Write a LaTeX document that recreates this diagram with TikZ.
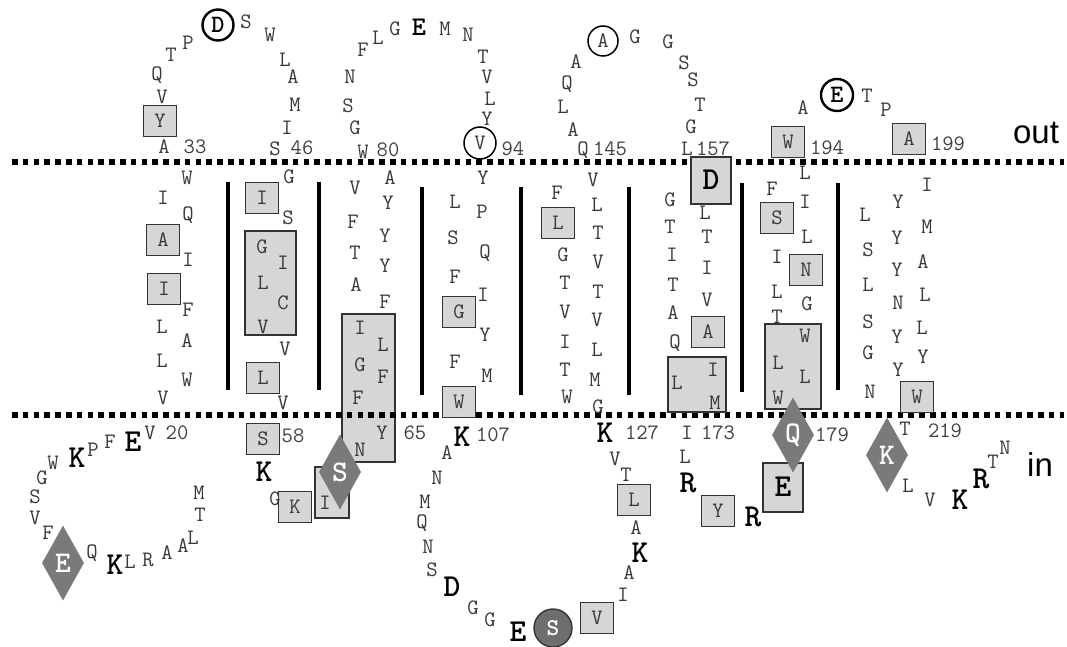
\documentclass[tikz,border=0pt]{standalone}
\usepackage{fontspec}
\setmainfont{Liberation Sans}
\usetikzlibrary{shapes.geometric}
\definecolor{txt}{HTML}{383838}
\definecolor{numc}{HTML}{404040}
\definecolor{edge}{HTML}{333333}
\definecolor{boxf}{HTML}{D6D6D6}
\definecolor{dia}{HTML}{7A7A7A}
\definecolor{sfill}{HTML}{6E6E6E}
\tikzset{
 aa/.style={font=\ttfamily\fontsize{22}{22}\selectfont, text=txt, inner sep=0pt},
 bb/.style={font=\ttfamily\bfseries\fontsize{32}{32}\selectfont, text=black, inner sep=0pt},
 num/.style={aa, text=numc},
 rbox/.style={draw=edge, fill=boxf, line width=1.4pt},
 sbox/.style={rbox, minimum width=33pt, minimum height=31pt, inner sep=0pt, font=\ttfamily\fontsize{22}{22}\selectfont, text=txt},
 diam/.style={diamond, fill=dia, minimum width=42pt, minimum height=75pt, inner sep=0pt, font=\ttfamily\bfseries\fontsize{30}{30}\selectfont, text=white},
 ring/.style={circle, draw=black, line width=1.5pt, minimum size=31pt, inner sep=0pt},
 vbar/.style={line width=3.6pt, line cap=butt},
 memb/.style={line width=5.5pt, dash pattern=on 5.5pt off 5.3pt},
 side/.style={font=\fontsize{33}{33}\selectfont, inner sep=0pt}
}
\begin{document}
\begin{tikzpicture}[x=1pt,y=-1pt]
\useasboundingbox (0,0) rectangle (1067,647);
% box lying under the membrane line
\draw[rbox] (342,314) rectangle (395,462);
% membrane boundaries
\draw[memb] (12,162) -- (1064,162);
\draw[memb] (12,415) -- (1064,415);
% helix separators
\foreach \x/\a/\b in {228/182/390, 319/182/390, 422/187/395, 521/187/395, 629/187/395, 742/183/392, 838/183/390}
  \draw[vbar] (\x,\a) -- (\x,\b);
% large boxes
\draw[rbox] (245,231) rectangle (296,335);
\draw[rbox] (315,467) rectangle (349,518);
\draw[rbox] (691,157) rectangle (731,204);
\draw[rbox] (668,357) rectangle (726,412);
\draw[rbox] (763,463) rectangle (803,512);
\draw[rbox] (765,324) rectangle (821,409);
% small boxed residues
\foreach \x/\y/\t [count=\i] in {160/121/Y, 163/240/A, 164/289/I, 262/198/I, 263/378/L, 263/439/S, 295/507/K,
  459/312/G, 459/402/W, 558/223/L, 597/618/V, 634/500/L, 708/332/A, 718/511/Y, 777/218/S, 806/270/N,
  788/142/W, 909/139/A, 917/397/W}
  \node[sbox] (s\i) at (\x,\y) {\t};
% plain residues
\foreach \x/\y/\t [count=\i] in {
  157/75/Q, 171/55/T, 188/43/P, 162/97/V, 164/147/A, 246/22/S,
  187/178/W, 163/198/I, 188/215/Q, 188/260/I, 188/310/F, 162/327/L, 187/341/A, 162/361/L, 187/380/W, 163/398/V,
  270/35/W, 285/60/L, 293/77/A, 295/105/M, 287/128/I, 275/149/S,
  289/177/G, 288/218/S, 285/349/V, 283/403/V,
  262/247/G, 283/263/I, 263/283/L, 283/303/C, 263/327/V,
  275/499/G, 325/503/I,
  350/77/N, 348/106/S, 355/128/G, 363/152/W, 363/50/F, 378/38/L, 395/29/G, 445/29/M, 468/35/N,
  483/57/T, 487/77/V, 490/99/L, 487/119/Y,
  355/188/V, 390/178/A, 388/203/Y, 353/222/F, 385/236/Y, 355/253/T, 385/266/Y, 356/285/A, 385/302/F,
  360/328/I, 383/345/L, 360/365/G, 383/377/F, 358/398/F, 382/433/Y, 360/450/N,
  483/178/Y, 455/202/L, 482/212/P, 453/238/S, 485/253/Q, 455/277/F, 483/295/I, 485/335/Y, 455/362/F, 487/376/M,
  447/453/A, 437/478/N, 425/502/M, 422/523/Q, 428/547/N, 432/570/S, 473/608/G, 490/620/G,
  623/595/I, 629/573/A, 636/528/A, 626/475/T, 615/459/V,
  557/193/F, 563/255/G, 565/283/T, 565/312/V, 565/342/I, 565/370/T, 567/397/W,
  593/180/V, 597/205/L, 598/233/T, 598/262/V, 598/292/T, 597/320/V, 597/350/L, 595/380/M, 598/407/G,
  576/62/A, 567/84/Q, 563/107/L, 573/130/A, 583/150/Q, 635/37/G, 668/42/G, 684/63/S, 693/80/S, 700/105/T, 691/127/G, 687/149/L,
  670/200/G, 670/227/T, 672/255/I, 673/285/T, 673/313/A, 675/343/Q,
  705/213/L, 707/237/T, 707/268/I, 707/300/V, 677/383/L, 713/370/I, 715/403/M,
  687/433/I, 685/457/L,
  772/189/F, 805/173/L, 805/202/I, 807/237/L, 777/257/I, 777/292/L, 807/304/G, 777/317/T,
  805/336/W, 778/363/L, 805/377/L, 778/398/W,
  803/108/A, 867/96/T, 886/110/P,
  927/185/I, 898/202/Y, 865/215/L, 927/227/M, 897/238/Y, 868/250/S, 923/262/A, 897/270/Y, 868/285/L,
  925/295/L, 898/303/N, 868/322/S, 922/328/L, 897/337/Y, 868/353/G, 923/357/Y, 898/370/Y, 870/392/N,
  905/429/T, 908/486/L, 930/500/V, 993/462/T, 1005/448/N,
  150/433/V, 110/442/F, 93/450/P, 53/463/W, 42/478/G, 35/497/S, 35/518/V, 48/533/F, 92/553/Q,
  130/562/L, 148/560/R, 167/553/A, 183/546/A, 193/538/L, 200/515/T, 199/493/M}
  \node[aa] (a\i) at (\x,\y) {\t};
% position numbers
\foreach \x/\y/\t [count=\i] in {195/147/33, 302/148/46, 388/150/80, 513/149/94, 610/149/145, 713/149/157,
  827/148/194, 948/144/199, 177/433/20, 293/436/58, 415/433/65, 493/435/107, 642/433/127, 718/433/173,
  832/435/179, 945/431/219}
  \node[num] (n\i) at (\x,\y) {\t};
% bold charged residues
\foreach \x/\y/\t [count=\i] in {77/458/K, 133/442/E, 115/565/K, 264/472/K, 462/437/K, 452/587/D, 518/632/E,
  640/553/K, 605/433/K, 688/483/R, 753/517/R, 960/500/K, 981/479/R, 783/487/E, 711/180/D}
  \node[bb] (b\i) at (\x,\y) {\t};
\node[bb, font=\ttfamily\bfseries\fontsize{27}{27}\selectfont] (etop) at (419,27) {E};
% diamonds
\foreach \x/\y/\t [count=\i] in {63/563/E, 340/472/S, 793/435/Q, 887/455/K}
  \node[diam] (d\i) at (\x,\y) {\t};
% circled residues
\node[ring, line width=2.4pt, font=\ttfamily\bfseries\fontsize{25}{25}\selectfont] (cD) at (218,25) {D};
\node[ring, minimum size=32pt, font=\ttfamily\fontsize{22}{22}\selectfont, text=txt] (cV) at (480,143) {V};
\node[ring, minimum size=30pt, font=\ttfamily\fontsize{22}{22}\selectfont, text=txt] (cA) at (603,41) {A};
\node[ring, line width=2.4pt, minimum size=32pt, font=\ttfamily\bfseries\fontsize{25}{25}\selectfont] (cE) at (837,95) {E};
\node[circle, draw=edge, fill=sfill, line width=1.4pt, minimum size=38pt, inner sep=0pt,
  font=\ttfamily\bfseries\fontsize{24}{24}\selectfont, text=white] (cS) at (553,628) {S};
% side labels
\node[side] (out) at (1036,133) {out};
\node[side] (in) at (1040,465) {in};
\end{tikzpicture}
\end{document}
